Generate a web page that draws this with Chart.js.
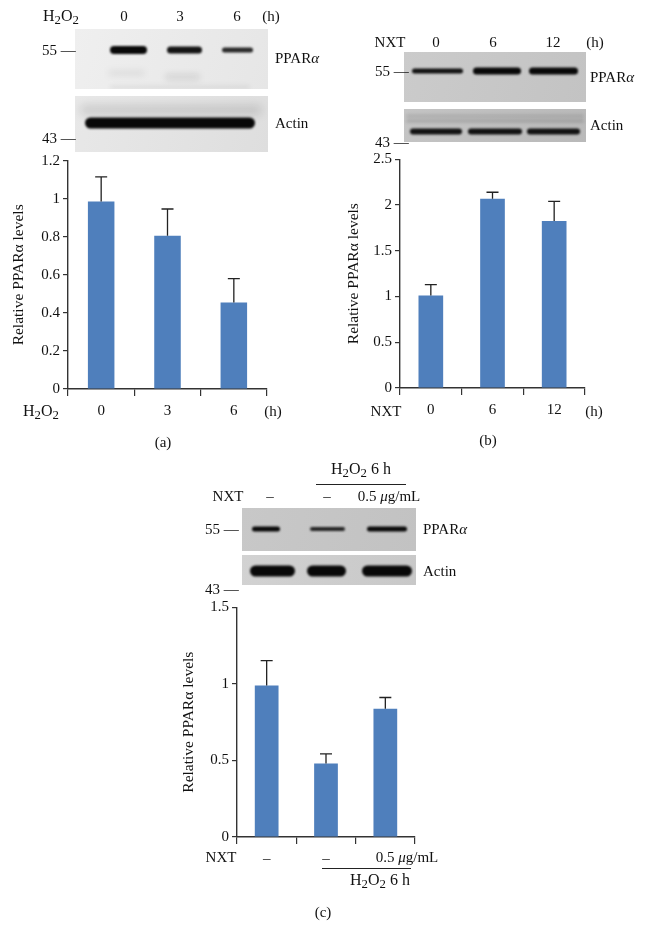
<!DOCTYPE html>
<html><head><meta charset="utf-8">
<script src="https://cdn.jsdelivr.net/npm/chart.js@4.4.1/dist/chart.umd.min.js"></script>
<style>
html,body{margin:0;padding:0;background:#fff;}
#page{position:relative;width:648px;height:944px;overflow:hidden;font-family:"Liberation Serif","DejaVu Serif",serif;color:#111;}
.t{position:absolute;font-size:15px;white-space:nowrap;transform:translate(-50%,-50%);line-height:1;}
.l{transform:translate(0,-50%);}
canvas{position:absolute;}
sub{font-size:0.8em;vertical-align:-0.22em;line-height:0;}
.h{font-size:16px;}
.hl{position:absolute;height:0;border-top:1.2px solid #222;}
</style></head>
<body><div id="page">
<canvas id="blots" width="648" height="944" style="left:0;top:0"></canvas>
<canvas id="ca"></canvas>
<canvas id="cb"></canvas>
<canvas id="cc"></canvas>
</div>
<script>
// ---------- data ----------
const catsA = ["0", "3", "6"];
const meanA = [0.985, 0.806, 0.455];
const sdA   = [0.13, 0.14, 0.125];

const catsB = ["0", "6", "12"];
const meanB = [1.01, 2.07, 1.825];
const sdB   = [0.12, 0.07, 0.215];

const catsC = ["–", "–", "0.5 μg/mL"];
const meanC = [0.99, 0.48, 0.837];
const sdC   = [0.162, 0.063, 0.074];

const yTitle = "Relative PPARα levels";
const BAR = "#4F7FBC";
const FONT = "'Liberation Serif','DejaVu Serif',serif";

// ---------- error bar plugin ----------
const errPlugin = {
  id: 'err',
  afterDatasetsDraw(chart, args, opts) {
    const meta = chart.getDatasetMeta(0);
    const ys = chart.scales.y;
    const ctx = chart.ctx;
    const data = chart.data.datasets[0].data;
    ctx.save();
    ctx.strokeStyle = '#222';
    ctx.lineWidth = 1.3;
    meta.data.forEach((bar, i) => {
      const yTop = ys.getPixelForValue(data[i] + opts.sds[i]);
      ctx.beginPath();
      ctx.moveTo(bar.x, bar.y);
      ctx.lineTo(bar.x, yTop);
      ctx.moveTo(bar.x - 6, yTop);
      ctx.lineTo(bar.x + 6, yTop);
      ctx.stroke();
    });
    ctx.restore();
  }
};

function makeChart(id, labels, means, sds, yMax, yStep, g, titlePad, hideIdx) {
  const cv = document.getElementById(id);
  const W = g.right - g.L + 14, H = g.bottom - g.T + 36;
  cv.width = W; cv.height = H;
  cv.style.left = g.L + 'px'; cv.style.top = g.T + 'px';
  return new Chart(cv, {
    type: 'bar',
    data: { labels: labels, datasets: [{ data: means, backgroundColor: BAR, borderWidth: 0,
      barPercentage: 0.4, categoryPercentage: 1 }] },
    plugins: [errPlugin],
    options: {
      responsive: false, animation: false, devicePixelRatio: 1,
      layout: { padding: { top: g.top - g.T, right: 14, left: 0, bottom: 0 } },
      plugins: { legend: { display: false }, tooltip: { enabled: false }, err: { sds: sds } },
      scales: {
        x: {
          type: 'category', offset: true,
          afterFit: s => { s.height = 36; },
          grid: { offset: true, drawOnChartArea: false, drawTicks: true, tickLength: 7, color: '#333', lineWidth: 1.2 },
          border: { display: true, color: '#333', width: 1.4 },
          ticks: { color: '#111', font: { family: FONT, size: 15 }, padding: 6, maxRotation: 0,
            callback: function(v, i) { return i === hideIdx ? '' : this.getLabelForValue(v); } }
        },
        y: {
          min: 0, max: yMax,
          afterFit: s => { s.width = g.left - g.L; },
          grid: { drawOnChartArea: false, drawTicks: true, tickLength: 5, color: '#333', lineWidth: 1.2 },
          border: { display: true, color: '#333', width: 1.4 },
          ticks: { stepSize: yStep, color: '#111', font: { family: FONT, size: 15 }, padding: 3,
            callback: v => String(Math.round(v * 10) / 10) },
          title: { display: true, text: yTitle, color: '#111', font: { family: FONT, size: 15.5 },
            padding: { top: titlePad, bottom: 0 } }
        }
      }
    }
  });
}

makeChart('ca', catsA, meanA, sdA, 1.2, 0.2, { L: 0, T: 140, left: 68, top: 160.7, right: 267, bottom: 389.3 }, 10, -1);
makeChart('cb', catsB, meanB, sdB, 2.5, 0.5, { L: 330, T: 140, left: 400, top: 159.3, right: 585, bottom: 388.3 }, 15, -1);
makeChart('cc', catsC, meanC, sdC, 1.5, 0.5, { L: 150, T: 590, left: 237, top: 607.3, right: 415, bottom: 837.3 }, 30, 2);

// ---------- blot images (decoration) ----------
const bc = document.getElementById('blots').getContext('2d');
function blot(x, y, w, h, bg, bg2) {
  const gr = bc.createLinearGradient(x, y, x + w, y + h);
  gr.addColorStop(0, bg); gr.addColorStop(1, bg2 || bg);
  bc.fillStyle = gr; bc.fillRect(x, y, w, h);
}
function band(clip, x1, x2, yc, th, a, blur) {
  bc.save();
  bc.beginPath(); bc.rect(clip[0], clip[1], clip[2], clip[3]); bc.clip();
  bc.filter = 'blur(' + (blur || 1.2) + 'px)';
  bc.fillStyle = 'rgba(8,8,8,' + a + ')';
  bc.beginPath();
  bc.roundRect(x1, yc - th / 2, x2 - x1, th, th / 2);
  bc.fill();
  bc.restore();
}
// (a)
let c = [75, 29, 193, 60];
blot(...c, '#efefef', '#e6e6e6');
band(c, 110, 147, 50, 8, 1); band(c, 167, 202, 50, 7, 0.95); band(c, 222, 253, 50, 5, 0.85);
band(c, 108, 145, 73, 6, 0.06, 3); band(c, 165, 200, 77, 6, 0.1, 3); band(c, 110, 250, 87, 3, 0.07, 2);
c = [75, 96, 193, 56];
blot(...c, '#e8e8e8', '#dedede');
band(c, 80, 262, 110, 10, 0.12, 4);
band(c, 85, 255, 123, 11, 1, 1.2);
// (b)
c = [404, 52, 182, 50];
blot(...c, '#cbcbcb', '#c3c3c3');
band(c, 412, 463, 71, 5, 0.95); band(c, 473, 521, 71, 7, 1); band(c, 529, 578, 71, 7, 1);
c = [404, 109, 182, 33];
blot(...c, '#c4c4c4', '#b9b9b9');
band(c, 406, 584, 116, 3, 0.12, 1.5); band(c, 406, 584, 121, 3, 0.15, 1.5);
band(c, 410, 462, 131.5, 6, 0.95); band(c, 468, 522, 131.5, 6, 0.95); band(c, 527, 580, 131.5, 6, 0.95);
// (c)
c = [242, 508, 174, 43];
blot(...c, '#c8c8c8', '#c2c2c2');
band(c, 252, 280, 529, 5, 1); band(c, 310, 345, 529, 4, 0.85); band(c, 367, 407, 529, 5, 1);
c = [242, 555, 174, 30];
blot(...c, '#d2d2d2', '#c8c8c8');
band(c, 250, 295, 571, 11, 1); band(c, 307, 346, 571, 11, 1); band(c, 362, 412, 571, 11, 1);

// ---------- text labels ----------
const page = document.getElementById('page');
function txt(html, x, y, left, cls) {
  const d = document.createElement('div');
  d.className = 't' + (left ? ' l' : '') + (cls ? ' ' + cls : '');
  d.innerHTML = html;
  d.style.left = x + 'px'; d.style.top = y + 'px';
  page.appendChild(d);
}
function hline(x1, x2, y) {
  const d = document.createElement('div');
  d.className = 'hl';
  d.style.left = x1 + 'px'; d.style.top = y + 'px'; d.style.width = (x2 - x1) + 'px';
  page.appendChild(d);
}
const H2O2 = 'H<sub>2</sub>O<sub>2</sub>';
const PPAR = 'PPAR<i>α</i>';
// (a) header
txt(H2O2, 61, 16, false, 'h'); txt('0', 124, 16); txt('3', 180, 16); txt('6', 237, 16); txt('(h)', 271, 16);
txt('55 —', 42, 50, true); txt('43 —', 42, 138, true);
txt(PPAR, 275, 58, true); txt('Actin', 275, 123, true);
txt(H2O2, 41, 411, false, 'h'); txt('(h)', 273, 411); txt('(a)', 163, 442);
// (b) header
txt('NXT', 390, 42); txt('0', 436, 42); txt('6', 493, 42); txt('12', 553, 42); txt('(h)', 595, 42);
txt('55 —', 375, 71, true); txt('43 —', 375, 142, true);
txt(PPAR, 590, 77, true); txt('Actin', 590, 125, true);
txt('NXT', 386, 411); txt('(h)', 594, 411); txt('(b)', 488, 440);
// (c) header
txt(H2O2 + ' 6 h', 361, 469, false, 'h'); hline(316, 406, 484);
txt('NXT', 228, 496); txt('–', 270, 496); txt('–', 327, 496); txt('0.5 <i>μ</i>g/mL', 389, 496);
txt('55 —', 205, 529, true); txt('43 —', 205, 589, true);
txt(PPAR, 423, 529, true); txt('Actin', 423, 571, true);
txt('NXT', 221, 857); txt('0.5 <i>μ</i>g/mL', 407, 857);
hline(322, 411, 867.5); txt(H2O2 + ' 6 h', 380, 880, false, 'h'); txt('(c)', 323, 912);
</script>
</body></html>
